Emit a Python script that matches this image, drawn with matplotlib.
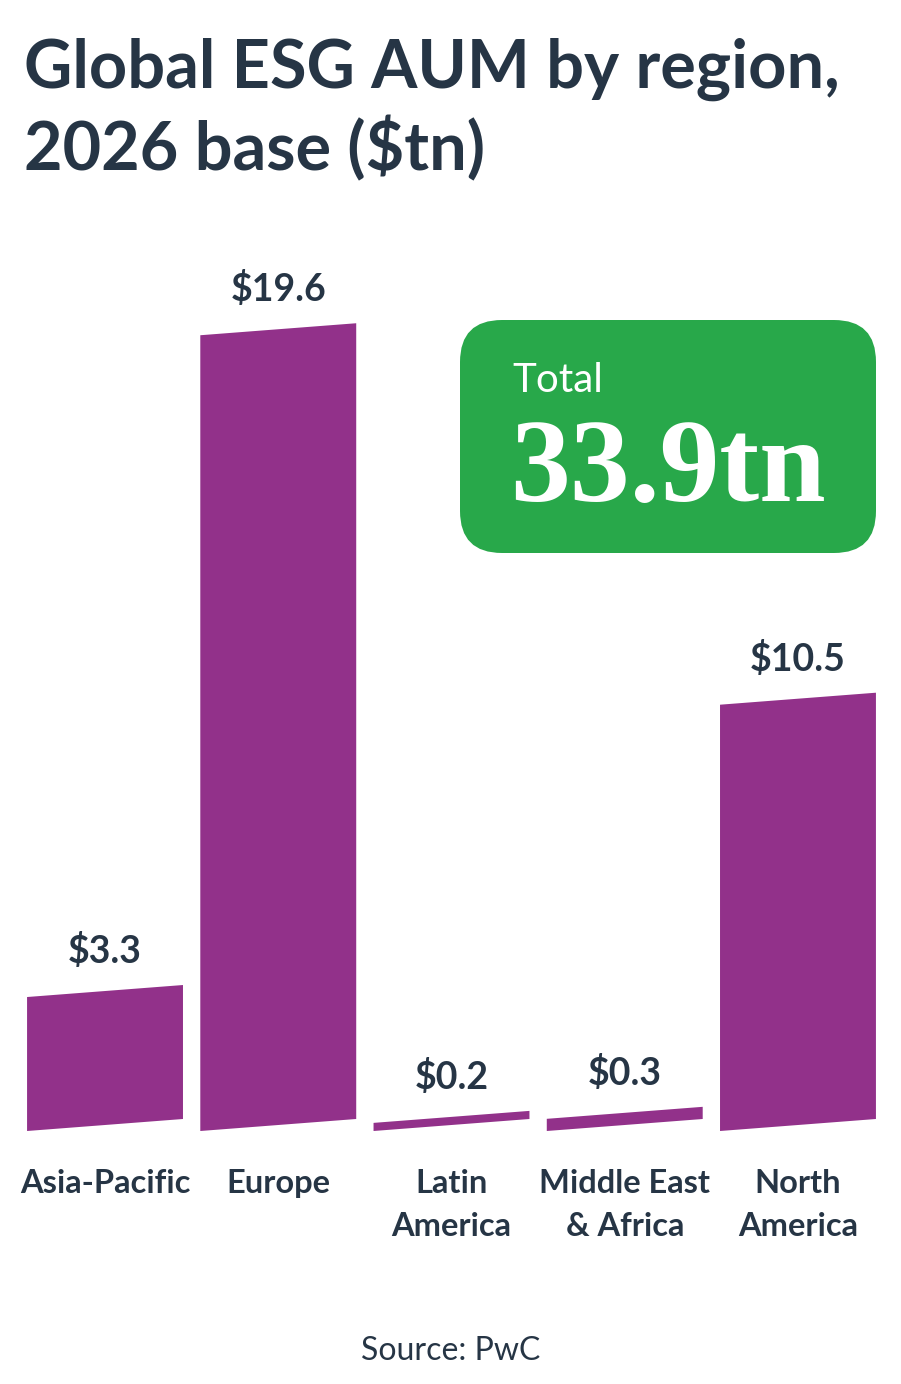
import matplotlib
matplotlib.use("Agg")
import matplotlib.pyplot as plt
from matplotlib.patches import Polygon, FancyBboxPatch

regions = ["Asia-Pacific", "Europe", "Latin\nAmerica", "Middle East\n& Africa", "North\nAmerica"]
values = [3.3, 19.6, 0.2, 0.3, 10.5]
value_labels = ["$3.3", "$19.6", "$0.2", "$0.3", "$10.5"]
total_label = "33.9tn"
title_lines = ["Global ESG AUM by region,", "2026 base ($tn)"]
source = "Source: PwC"

W, H = 901, 1384
DPI = 100
TEXT = "#263545"
PURPLE = "#92318A"
GREEN = "#28A84A"

fig = plt.figure(figsize=(W / DPI, H / DPI), dpi=DPI)
fig.patch.set_facecolor("white")

def fx(px):
    return px / W

def fy(py):
    return 1 - py / H

# axes for bars
px_per_unit = 40.6
base_py = 1131
ymax = 22
ax = fig.add_axes([fx(18.4), fy(base_py), fx(884.6) - fx(18.4), ymax * px_per_unit / H])
ax.set_xlim(-0.5, 4.5)
ax.set_ylim(0, ymax)
ax.axis("off")

bw = 0.9
slant = 12 / px_per_unit
for i, (v, lab, reg) in enumerate(zip(values, value_labels, regions)):
    x0, x1 = i - bw / 2, i + bw / 2
    poly = Polygon([(x0, 0), (x1, slant), (x1, slant + v), (x0, v)],
                   closed=True, facecolor=PURPLE, edgecolor="none", clip_on=False)
    ax.add_patch(poly)
    ax.annotate(lab, xy=(i, v + slant / 2), xytext=(0, 22), textcoords="offset pixels",
                ha="center", va="bottom", fontsize=27, fontweight="bold",
                family="Lato", color=TEXT, annotation_clip=False)
    ax.annotate(reg, xy=(i, 0), xytext=(0, -38), textcoords="offset pixels",
                ha="center", va="top", fontsize=23.5, fontweight="bold",
                family="Lato", color=TEXT, linespacing=1.58, annotation_clip=False)

# title
fig.text(fx(24), fy(88), title_lines[0], fontsize=48, fontweight="bold", family="Lato",
         color=TEXT, ha="left", va="baseline")
fig.text(fx(24), fy(170), title_lines[1], fontsize=48, fontweight="bold", family="Lato",
         color=TEXT, ha="left", va="baseline")

# green total box
box = FancyBboxPatch((4.60, (H - 553) / DPI), 4.16, 2.33,
                     boxstyle="round,pad=0,rounding_size=0.42",
                     transform=fig.dpi_scale_trans, facecolor=GREEN, edgecolor="none")
fig.patches.append(box)
fig.text(fx(512), fy(392), "Total", fontsize=29, fontweight="normal", family="Lato",
         color="white", ha="left", va="baseline")
fig.text(fx(510), fy(501), total_label, fontsize=86, fontweight="bold",
         family="Liberation Serif", color="white", ha="left", va="baseline")

# source
fig.text(0.5, fy(1360), source, fontsize=23, fontweight="normal", family="Lato",
         color=TEXT, ha="center", va="baseline")

fig.savefig("out.png", dpi=DPI, facecolor="white")
